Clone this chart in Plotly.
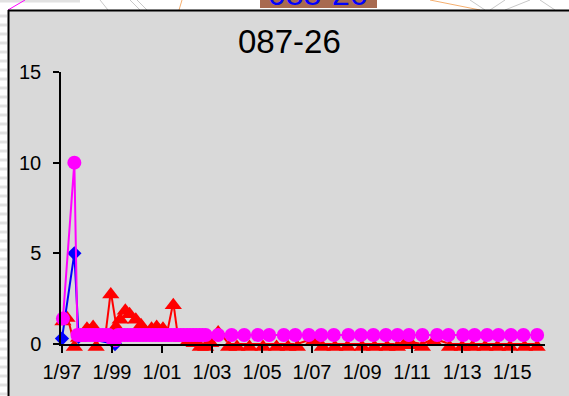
import plotly.graph_objects as go

# ---------------- data ----------------
red_dates = ["1997-01-15", "1997-03-15", "1997-07-01", "1997-09-01", "1998-01-01", "1998-04-01",
             "1998-05-15", "1998-08-01", "1998-10-01", "1998-12-15", "1999-03-01", "1999-05-01",
             "1999-07-15", "1999-09-15", "1999-12-15", "2000-03-01", "2000-05-15", "2000-08-01",
             "2000-10-15", "2001-01-15", "2001-03-15", "2001-06-15", "2001-08-15", "2001-10-15",
             "2002-01-15", "2002-04-15", "2002-07-15", "2002-10-01", "2002-12-15", "2003-04-01",
             "2003-09-01", "2004-01-01", "2004-07-01", "2005-01-15", "2005-08-01", "2006-01-15",
             "2006-06-01", "2007-01-15", "2007-06-01", "2007-12-01", "2008-06-01", "2009-01-01",
             "2009-07-01", "2010-01-01", "2010-06-01", "2010-09-01", "2011-01-01", "2011-06-01",
             "2011-11-15", "2012-07-01", "2013-01-01", "2013-06-01", "2013-12-01", "2014-06-01",
             "2014-12-01", "2015-07-01", "2016-01-01"]
red_values = [1.4, 1.6, 0.0, 0.5, 1.0, 1.1,
              0.0, 0.5, 0.6, 2.9, 1.1, 1.5,
              2.0, 1.8, 1.5, 1.2, 0.8, 1.0,
              1.1, 1.0, 0.6, 2.3, 0.6, 0.5,
              0.3, 0.2, 0.0, 0.0, 0.2, 0.8,
              0.0, 0.0, 0.0, 0.0, 0.0, 0.0,
              0.0, 0.3, 0.0, 0.0, 0.0, 0.0,
              0.0, 0.0, 0.0, 0.1, 0.1, 0.0,
              0.3, 0.0, 0.0, 0.0, 0.0, 0.0,
              0.0, 0.0, 0.0]

magenta_dates = ["1997-01-15", "1997-07-01",
                 "1997-08-15", "1997-10-01", "1997-11-15", "1998-01-01", "1998-02-15", "1998-04-01",
                 "1998-05-15", "1998-07-01", "1998-08-15", "1998-10-01", "1998-11-15", "1999-01-01",
                 "1999-02-15", "1999-04-01", "1999-05-15", "1999-07-01", "1999-08-15", "1999-10-01",
                 "1999-11-15", "2000-01-01", "2000-02-15", "2000-04-01", "2000-05-15", "2000-07-01",
                 "2000-08-15", "2000-10-01", "2000-11-15", "2001-01-01", "2001-02-15", "2001-04-01",
                 "2001-05-15", "2001-07-01", "2001-08-15", "2001-10-01", "2001-11-15", "2002-01-01",
                 "2002-02-15", "2002-04-01", "2002-05-15", "2002-07-01", "2002-08-15", "2002-10-01",
                 "2003-04-01", "2003-10-15", "2004-04-15", "2004-11-01", "2005-04-15", "2005-11-15",
                 "2006-05-01", "2006-11-15", "2007-05-15", "2007-11-15", "2008-06-15", "2008-12-15",
                 "2009-06-15", "2009-12-15", "2010-06-01", "2010-11-15", "2011-06-01", "2012-01-01",
                 "2012-06-15", "2013-01-15", "2013-07-01", "2014-01-01", "2014-06-15", "2014-12-15",
                 "2015-06-15", "2016-01-01"]
magenta_values = [1.4, 10.0,
                  0.5, 0.5, 0.5, 0.5, 0.5, 0.5,
                  0.5, 0.5, 0.5, 0.5, 0.5, 0.3,
                  0.2, 0.5, 0.5, 0.5, 0.5, 0.5,
                  0.5, 0.5, 0.5, 0.5, 0.5, 0.5,
                  0.5, 0.5, 0.5, 0.5, 0.5, 0.5,
                  0.5, 0.5, 0.5, 0.5, 0.5, 0.5,
                  0.5, 0.5, 0.5, 0.5, 0.5, 0.5,
                  0.5, 0.5, 0.5, 0.5, 0.5, 0.5,
                  0.5, 0.5, 0.5, 0.5, 0.5, 0.5,
                  0.5, 0.5, 0.5, 0.5, 0.5, 0.5,
                  0.5, 0.5, 0.5, 0.5, 0.5, 0.5,
                  0.5, 0.5]

blue_dates = ["1997-01-01", "1997-07-01", "1997-09-01", "1999-02-15"]
blue_values = [0.3, 5.0, 0.4, 0.0]

x_tick_start = "1997-01-01"
y_ticks = [0, 5, 10, 15]
title_text = "087-26"
header_text = "088-26"

# ---------------- layout geometry ----------------
W, H = 569, 396
L, R, T, B = 61, 24, 72, 52
PW, PH = W - L - R, H - T - B


def px(x):
    return (x - L) / PW


def py(y):
    return (H - B - y) / PH


fig = go.Figure()

fig.add_trace(go.Scatter(x=red_dates, y=red_values, mode="lines+markers",
                         line=dict(color="#FF0000", width=2),
                         marker=dict(symbol="triangle-up", size=15, color="#FF0000", standoff=3),
                         cliponaxis=False, showlegend=False))
fig.add_trace(go.Scatter(x=blue_dates, y=blue_values, mode="lines+markers",
                         line=dict(color="#0000FF", width=2),
                         marker=dict(symbol="diamond", size=11, color="#0000FF"),
                         cliponaxis=False, showlegend=False))
fig.add_trace(go.Scatter(x=magenta_dates, y=magenta_values, mode="lines+markers",
                         line=dict(color="#FF00FF", width=2),
                         marker=dict(symbol="circle", size=14, color="#FF00FF"),
                         cliponaxis=False, showlegend=False))

shapes = []
# white margins left and top
shapes.append(dict(type="rect", xref="paper", yref="paper", x0=px(-5), x1=px(8), y0=py(H + 5), y1=py(-5),
                   fillcolor="white", line=dict(width=0), layer="below"))
shapes.append(dict(type="rect", xref="paper", yref="paper", x0=px(-5), x1=px(W + 5), y0=py(10), y1=py(-5),
                   fillcolor="white", line=dict(width=0), layer="below"))
# light stripes in left strip
for yy in range(16, H, 9):
    shapes.append(dict(type="line", xref="paper", yref="paper", x0=px(0), x1=px(7), y0=py(yy), y1=py(yy),
                       line=dict(color="#E2E2E2", width=3), layer="below"))
shapes.append(dict(type="line", xref="paper", yref="paper", x0=px(0), x1=px(80), y0=py(1), y1=py(1),
                   line=dict(color="#E2E2E2", width=3), layer="below"))
# decorative lines at top
shapes.append(dict(type="line", xref="paper", yref="paper", x0=px(8), x1=px(25), y0=py(10), y1=py(0),
                   line=dict(color="#FF00FF", width=1), layer="below"))
for (x0, y0, x1, y1, c) in [(100, 0, 108, 10, "#C8C8C8"), (130, 0, 140, 10, "#C8C8C8"), (137, 0, 147, 10, "#C8C8C8"),
                            (182, 0, 179, 10, "#F5B070"), (430, 0, 480, 10, "#F5B070"),
                            (470, 0, 485, 10, "#C8C8C8"), (490, 10, 505, 0, "#C8C8C8"),
                            (505, 10, 530, 0, "#C8C8C8"), (540, 0, 555, 10, "#C8C8C8")]:
    shapes.append(dict(type="line", xref="paper", yref="paper", x0=px(x0), x1=px(x1), y0=py(y0), y1=py(y1),
                       line=dict(color=c, width=1), layer="below"))
# brown header box
shapes.append(dict(type="rect", xref="paper", yref="paper", x0=px(260), x1=px(377), y0=py(8), y1=py(-5),
                   fillcolor="#A86A50", line=dict(width=0), layer="below"))
# chart-area border lines
shapes.append(dict(type="line", xref="paper", yref="paper", x0=px(8.5), x1=px(8.5), y0=py(10), y1=py(H + 5),
                   line=dict(color="black", width=2), layer="below"))
shapes.append(dict(type="line", xref="paper", yref="paper", x0=px(8), x1=px(W + 5), y0=py(10.5), y1=py(10.5),
                   line=dict(color="black", width=2), layer="below"))

annotations = [
    dict(text=title_text, xref="paper", yref="paper", x=px(289), y=py(42), xanchor="center", yanchor="middle",
         showarrow=False, font=dict(family="Liberation Sans, Arial", size=33, color="black")),
    dict(text=header_text, xref="paper", yref="paper", x=px(318), y=py(-6), xanchor="center", yanchor="middle",
         showarrow=False, font=dict(family="Liberation Sans, Arial", size=32, color="#0000FF")),
]

fig.update_layout(
    width=W, height=H,
    margin=dict(l=L, r=R, t=T, b=B, pad=0),
    paper_bgcolor="#D9D9D9", plot_bgcolor="#D9D9D9",
    font=dict(family="Liberation Sans, Arial", size=20, color="black"),
    shapes=shapes, annotations=annotations,
    xaxis=dict(type="date", range=["1996-12-18", "2016-04-25"], tick0=x_tick_start, dtick="M24",
               tickformat="%-m/%y", ticks="outside", ticklen=7, tickcolor="black", tickwidth=1.5,
               showline=True, linecolor="black", linewidth=1.5, showgrid=False, zeroline=False,
               tickfont=dict(size=20), ticklabelstandoff=2, fixedrange=True),
    yaxis=dict(range=[0, 15], tickvals=y_ticks, ticks="outside", ticklen=6, tickcolor="black", tickwidth=1.5,
               showline=True, linecolor="black", linewidth=1.5, showgrid=False, zeroline=False,
               tickfont=dict(size=20), ticklabelstandoff=8, fixedrange=True),
)

fig.write_html("out.html")
